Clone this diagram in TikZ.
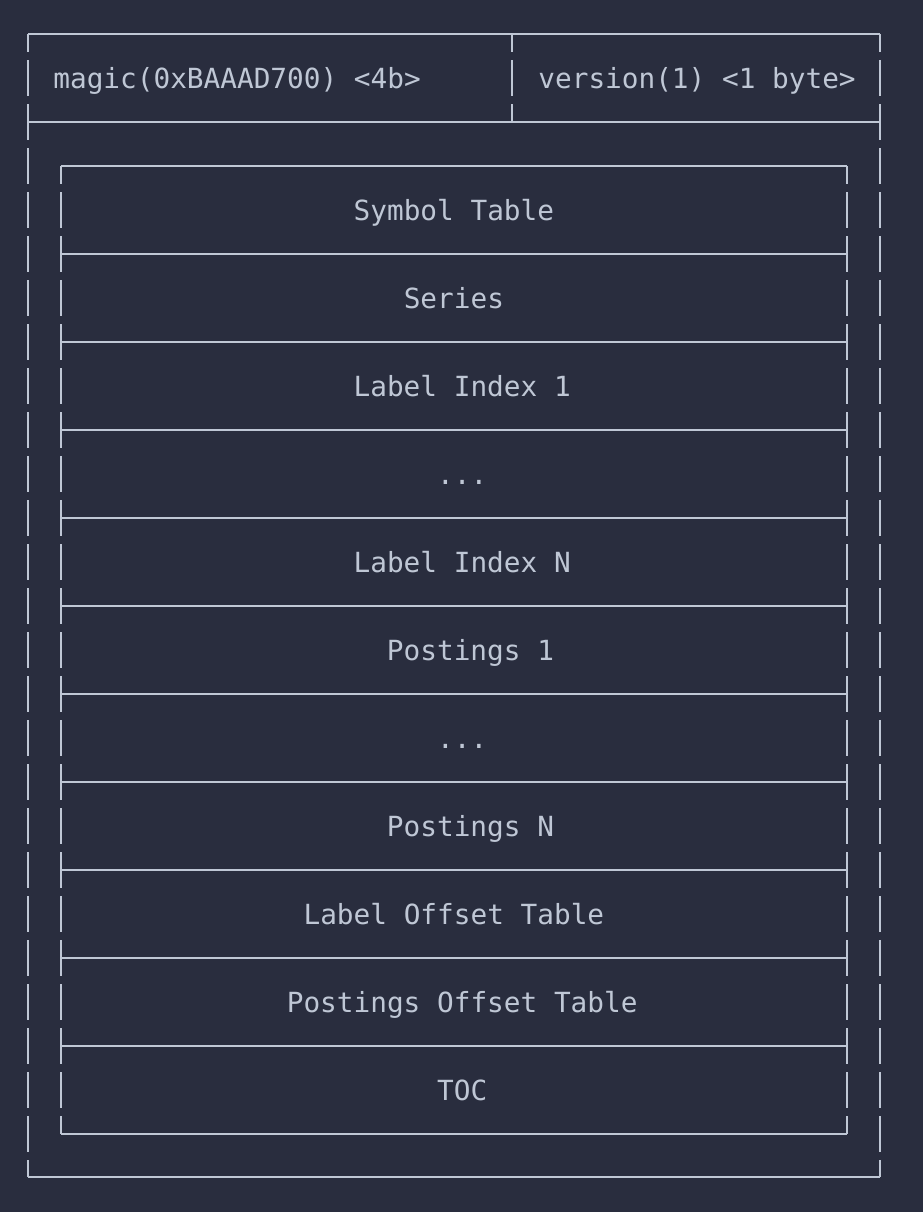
\documentclass[tikz,border=0pt]{standalone}
\usepackage{fontspec}
\setmonofont{DejaVu Sans Mono}
\usetikzlibrary{positioning}
\definecolor{bgcol}{HTML}{292D3E}
\definecolor{fgcol}{HTML}{BFC7D5}
\tikzset{hline/.style = {draw = fgcol, line width = 1pt}}
\tikzset{vline/.style = {draw = fgcol, line width = 1pt, dash pattern = on 18pt off 4pt, dash phase = 9pt}}
\tikzset{cell/.style = {text = fgcol, font = \ttfamily\fontsize{13.87}{16}\selectfont, anchor = base, inner sep = 0}}

\begin{document}
\begin{tikzpicture}[x = 0.5pt, y = -0.5pt]
    \fill [bgcol] (0, 0) rectangle (923, 1212);
    \useasboundingbox (0, 0) rectangle (923, 1212);

    % outer frame and header
    \draw [hline] (28, 34) -- (880, 34);
    \draw [hline] (28, 122) -- (880, 122);
    \draw [hline] (28, 1177) -- (880, 1177);
    \draw [vline] (28, 34) -- (28, 1177);
    \draw [vline] (880, 34) -- (880, 1177);
    \draw [vline] (512, 34) -- (512, 122);

    \node [cell, anchor = base west] (magic) at (53, 88) {magic(0xBAAAD700) <4b>};
    \node [cell, anchor = base west] (version) at (538, 88) {version(1) <1 byte>};

    % inner frame
    \foreach \y in {166, 254, ..., 1134}
        \draw [hline] (61, \y) -- (847, \y);
    \draw [vline] (61, 166) -- (61, 1134);
    \draw [vline] (847, 166) -- (847, 1134);

    \node [cell] (symtab) at (453.9, 220) {Symbol Table};
    \node [cell] (series) at (453.9, 308) {Series};
    \node [cell] (lblidx1) at (462.2, 396) {Label Index 1};
    \node [cell] (lbldots) at (462.2, 484) {...};
    \node [cell] (lblidxn) at (462.2, 572) {Label Index N};
    \node [cell] (post1) at (470.5, 660) {Postings 1};
    \node [cell] (postdots) at (462.2, 748) {...};
    \node [cell] (postn) at (470.5, 836) {Postings N};
    \node [cell] (lbloff) at (453.9, 924) {Label Offset Table};
    \node [cell] (postoff) at (462.2, 1012) {Postings Offset Table};
    \node [cell] (toc) at (462.2, 1100) {TOC};
\end{tikzpicture}
\end{document}
